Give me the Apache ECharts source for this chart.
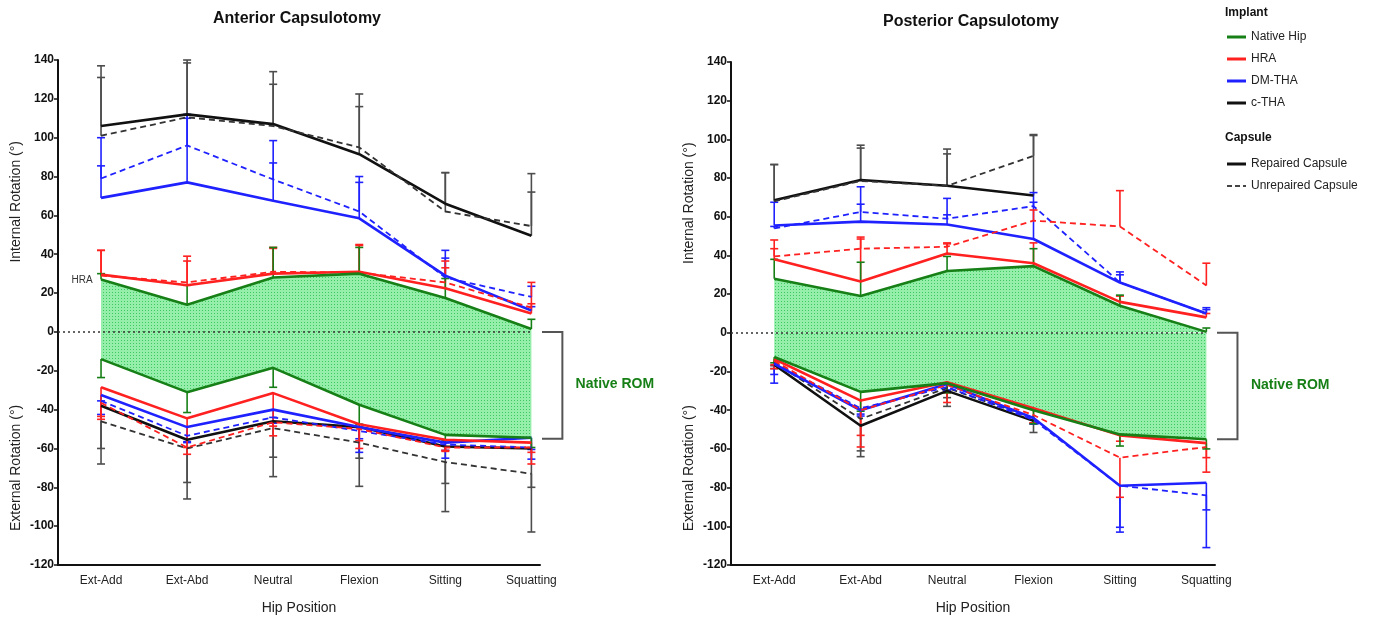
<!DOCTYPE html>
<html>
<head>
<meta charset="utf-8">
<script src="https://cdn.jsdelivr.net/npm/echarts@6/dist/echarts.min.js"></script>
<style>
  html, body { margin: 0; background: #fff; }
  #chart { width: 1376px; height: 620px; }
</style>
</head>
<body>
<div id="chart"></div>
<script>
// hip positions (x categories)
const positions = ['Ext-Add', 'Ext-Abd', 'Neutral', 'Flexion', 'Sitting', 'Squatting'];
const yTicks = { min: -120, max: 140, step: 20 };

// ---- Anterior capsulotomy: internal rotation (mean / sd), u = unrepaired capsule
const antNativeIR = [27, 14, 28, 30, 17.5, 1.5];
const antNativeIRsd = [3, 10, 15.5, 13.5, 10, 5];
const antHraIR = [29.5, 24, 30, 31, 22.5, 9.5];
const antHraIRsd = [12.5, 15, 13.5, 14, 14, 5];
const antHraIRu = [29, 25.5, 31, 30.5, 25.5, 12.5];
const antHraIRusd = [13, 11, 12, 14, 7.5, 13];
const antDmIR = [69, 77, 67.5, 58.5, 29, 11];
const antDmIRsd = [31, 35, 31, 21.5, 13, 2];
const antDmIRu = [79, 96, 78.5, 62, 28, 18];
const antDmIRusd = [6.5, 14, 8.5, 15, 10, 5.5];
const antCthaIR = [106, 112, 107, 91.5, 66, 49.5];
const antCthaIRsd = [31, 28, 27, 31, 16, 32];
const antCthaIRu = [101, 110.5, 106, 95, 62, 54.5];
const antCthaIRusd = [30, 28, 21.5, 21, 20, 17.5];

// ---- Anterior capsulotomy: external rotation
const antNativeER = [-14, -31, -18.5, -37.5, -53, -54.5];
const antNativeERsd = [9.5, 10.5, 10, 10, 3, 5];
const antHraER = [-28.5, -44.5, -31.5, -47.5, -55.5, -57];
const antHraERsd = [16.5, 15, 17, 8.5, 5.5, 5];
const antHraERu = [-36.5, -59.5, -46.5, -50, -59.5, -59.5];
const antHraERusd = [7, 3.5, 7, 10, 2, 8.5];
const antDmER = [-32.5, -49, -40, -49, -57, -54.5];
const antDmERsd = [3, 8, 4, 6, 4, 6];
const antDmERu = [-35.5, -53.5, -44, -51, -58, -59.5];
const antDmERusd = [7, 3, 3, 11, 7, 6];
const antCthaER = [-38, -55.5, -46, -49, -59, -60];
const antCthaERsd = [22, 22, 18.5, 16, 19, 20];
const antCthaERu = [-46, -60, -49.5, -57, -67, -73];
const antCthaERusd = [22, 26, 25, 22.5, 25.5, 30];

// ---- Posterior capsulotomy: internal rotation
const postNativeIR = [28, 19, 32, 34.5, 14, 0.5];
const postNativeIRsd = [10, 17.5, 7.5, 9, 5.5, 2];
const postHraIR = [38, 26.5, 41, 36, 16, 8];
const postHraIRsd = [10, 23, 5.5, 10.5, 3, 2];
const postHraIRu = [39.5, 43.5, 44.5, 58, 55, 24.5];
const postHraIRusd = [4, 5, 1.5, 5.5, 18.5, 11.5];
const postDmIR = [55.5, 57.5, 56, 48.5, 26, 10];
const postDmIRsd = [12, 18, 13.5, 24, 5.5, 3];
const postDmIRu = [54, 62.5, 59, 65.5, 26, 10];
const postDmIRusd = [1, 4, 2, 2, 4, 2];
const postCthaIR = [68.5, 79, 76, 71, null, null];
const postCthaIRsd = [18.5, 18, 19, 31, 0, 0];
const postCthaIRu = [68, 78.5, 76, 91.5, null, null];
const postCthaIRusd = [19, 17, 16.5, 11, 0, 0];

// ---- Posterior capsulotomy: external rotation
const postNativeER = [-12.5, -30.5, -26, -40, -52.5, -55];
const postNativeERsd = [3, 10, 5, 7, 6, 5];
const postHraER = [-13.5, -35, -25.5, -39, -53, -57];
const postHraERsd = [5, 18, 10.5, 7.5, 3, 7.5];
const postHraERu = [-14.5, -40, -27, -42.5, -64.5, -59];
const postHraERusd = [2, 19, 4, 4, 20.5, 13];
const postDmER = [-16, -40, -26.5, -44, -79, -77.5];
const postDmERsd = [10, 3, 3, 3, 24, 33.5];
const postDmERu = [-15.5, -39, -28, -45, -79, -84];
const postDmERusd = [6, 3, 2, 2, 21.5, 7.5];
const postCthaER = [-16.5, -48, -30, -45.5, null, null];
const postCthaERsd = [2, 16, 8, 6, 0, 0];
const postCthaERu = [-15, -44.5, -28.5, -44, null, null];
const postCthaERusd = [2, 16.5, 5, 3, 0, 0];

const FONT = '"Liberation Sans", Arial, sans-serif';
const GREEN = '#167f16', RED = '#ff2020', BLUE = '#1f22ff', BLACK = '#111111', GRAY = '#4d4d4d';

// dotted green texture for the native ROM band
const tile = document.createElement('canvas');
tile.width = 3; tile.height = 3;
const tctx = tile.getContext('2d');
tctx.fillStyle = '#96eeab'; tctx.fillRect(0, 0, 3, 3);
tctx.fillStyle = '#3cc95f'; tctx.fillRect(1, 1, 1, 1);

function toPoints(values) {
  return values.map((v, i) => [i, v]).filter(d => d[1] != null);
}

function line(name, values, color, dashed, g, z) {
  return {
    name: name, type: 'line', xAxisIndex: g, yAxisIndex: g,
    data: toPoints(values), symbol: 'none', z: z || 3,
    lineStyle: { color: color, width: dashed ? 1.8 : 2.6, type: dashed ? [6, 4] : 'solid' },
    itemStyle: { color: color }
  };
}

// error bars only go away from zero (up for IR, down for ER)
function errBars(values, sds, dir, color, g) {
  const data = values.map((v, i) => v == null ? null : [i, v, v + dir * sds[i]]).filter(Boolean);
  return {
    type: 'custom', xAxisIndex: g, yAxisIndex: g, z: 2, silent: true,
    encode: { x: 0, y: [1, 2] },
    data: data,
    renderItem: function (params, api) {
      const p0 = api.coord([api.value(0), api.value(1)]);
      const p1 = api.coord([api.value(0), api.value(2)]);
      const st = { stroke: color, lineWidth: 1.6 };
      return {
        type: 'group',
        children: [
          { type: 'line', shape: { x1: p0[0], y1: p0[1], x2: p1[0], y2: p1[1] }, style: st },
          { type: 'line', shape: { x1: p1[0] - 4, y1: p1[1], x2: p1[0] + 4, y2: p1[1] }, style: st }
        ]
      };
    }
  };
}

function fill(values, g) {
  return {
    type: 'line', xAxisIndex: g, yAxisIndex: g, z: 1, silent: true,
    data: toPoints(values), symbol: 'none',
    lineStyle: { width: 0, opacity: 0 },
    areaStyle: { color: { image: tile, repeat: 'repeat' }, opacity: 1, origin: 0 }
  };
}

function zeroLine(g) {
  return {
    type: 'line', xAxisIndex: g, yAxisIndex: g, data: [], silent: true,
    markLine: {
      silent: true, symbol: 'none', label: { show: false },
      lineStyle: { color: '#333', width: 1.5, type: [2, 3] },
      data: [[{ coord: [-0.5, 0] }, { coord: [5, 0] }]]
    }
  };
}

function chartSeries(g, d) {
  return [
    fill(d.nIR, g), fill(d.nER, g), zeroLine(g),
    errBars(d.cIR, d.cIRsd, 1, GRAY, g), errBars(d.cIRu, d.cIRusd, 1, GRAY, g),
    errBars(d.cER, d.cERsd, -1, GRAY, g), errBars(d.cERu, d.cERusd, -1, GRAY, g),
    errBars(d.dIR, d.dIRsd, 1, BLUE, g), errBars(d.dIRu, d.dIRusd, 1, BLUE, g),
    errBars(d.dER, d.dERsd, -1, BLUE, g), errBars(d.dERu, d.dERusd, -1, BLUE, g),
    errBars(d.hIR, d.hIRsd, 1, RED, g), errBars(d.hIRu, d.hIRusd, 1, RED, g),
    errBars(d.hER, d.hERsd, -1, RED, g), errBars(d.hERu, d.hERusd, -1, RED, g),
    errBars(d.nIR, d.nIRsd, 1, GREEN, g), errBars(d.nER, d.nERsd, -1, GREEN, g),
    line('Native Hip', d.nIR, GREEN, false, g, 6), line('Native Hip', d.nER, GREEN, false, g, 6),
    line('HRA', d.hIR, RED, false, g, 5), line('HRA', d.hER, RED, false, g, 5),
    line('HRA unrepaired', d.hIRu, RED, true, g, 5), line('HRA unrepaired', d.hERu, RED, true, g, 5),
    line('DM-THA', d.dIR, BLUE, false, g, 4), line('DM-THA', d.dER, BLUE, false, g, 4),
    line('DM-THA unrepaired', d.dIRu, BLUE, true, g, 4), line('DM-THA unrepaired', d.dERu, BLUE, true, g, 4),
    line('c-THA', d.cIR, BLACK, false, g, 3), line('c-THA', d.cER, BLACK, false, g, 3),
    line('c-THA unrepaired', d.cIRu, '#333', true, g, 3), line('c-THA unrepaired', d.cERu, '#333', true, g, 3)
  ];
}

const anterior = {
  nIR: antNativeIR, nIRsd: antNativeIRsd, nER: antNativeER, nERsd: antNativeERsd,
  hIR: antHraIR, hIRsd: antHraIRsd, hIRu: antHraIRu, hIRusd: antHraIRusd,
  hER: antHraER, hERsd: antHraERsd, hERu: antHraERu, hERusd: antHraERusd,
  dIR: antDmIR, dIRsd: antDmIRsd, dIRu: antDmIRu, dIRusd: antDmIRusd,
  dER: antDmER, dERsd: antDmERsd, dERu: antDmERu, dERusd: antDmERusd,
  cIR: antCthaIR, cIRsd: antCthaIRsd, cIRu: antCthaIRu, cIRusd: antCthaIRusd,
  cER: antCthaER, cERsd: antCthaERsd, cERu: antCthaERu, cERusd: antCthaERusd
};
const posterior = {
  nIR: postNativeIR, nIRsd: postNativeIRsd, nER: postNativeER, nERsd: postNativeERsd,
  hIR: postHraIR, hIRsd: postHraIRsd, hIRu: postHraIRu, hIRusd: postHraIRusd,
  hER: postHraER, hERsd: postHraERsd, hERu: postHraERu, hERusd: postHraERusd,
  dIR: postDmIR, dIRsd: postDmIRsd, dIRu: postDmIRu, dIRusd: postDmIRusd,
  dER: postDmER, dERsd: postDmERsd, dERu: postDmERu, dERusd: postDmERusd,
  cIR: postCthaIR, cIRsd: postCthaIRsd, cIRu: postCthaIRu, cIRusd: postCthaIRusd,
  cER: postCthaER, cERsd: postCthaERsd, cERu: postCthaERu, cERusd: postCthaERusd
};

function xAxis(g) {
  return {
    type: 'value', gridIndex: g, min: -0.5, max: 5.1, interval: 0.5,
    splitLine: { show: false }, axisTick: { show: false },
    axisLine: { show: true, onZero: false, lineStyle: { color: '#111', width: 2 } },
    axisLabel: {
      color: '#222', fontFamily: FONT, fontSize: 12, margin: 10, showMaxLabel: false,
      formatter: v => Number.isInteger(v) && v >= 0 ? positions[v] : ''
    },
    name: 'Hip Position', nameLocation: 'middle', nameGap: 36,
    nameTextStyle: { color: '#222', fontFamily: FONT, fontSize: 14 }
  };
}
function yAxis(g) {
  return {
    type: 'value', gridIndex: g, min: yTicks.min, max: yTicks.max, interval: yTicks.step,
    splitLine: { show: false },
    axisLine: { show: true, onZero: false, lineStyle: { color: '#111', width: 2 } },
    axisTick: { show: true, length: 4, lineStyle: { color: '#111', width: 1.5 } },
    axisLabel: { color: '#111', fontFamily: FONT, fontSize: 12, fontWeight: 'bold', margin: 4 }
  };
}

const SOLID_ICON = 'rect';
const DASH_ICON = 'path://M0,0H5V2H0Z M8,0H13V2H8Z M16,0H19V2H16Z';
const legendText = { color: '#222', fontFamily: FONT, fontSize: 12 };

const chart = echarts.init(document.getElementById('chart'));
const option = {
  animation: false,
  backgroundColor: '#fff',
  grid: [
    { left: 58, top: 60, width: 482, height: 511 },
    { left: 731, top: 62, width: 484, height: 513 }
  ],
  xAxis: [xAxis(0), xAxis(1)],
  yAxis: [yAxis(0), yAxis(1)],
  legend: [
    {
      data: ['Native Hip', 'HRA', 'DM-THA', 'c-THA'].map(n => ({ name: n, icon: SOLID_ICON })),
      orient: 'vertical', left: 1222, top: 26, itemWidth: 19, itemHeight: 3, itemGap: 10,
      selectedMode: false, textStyle: legendText
    },
    {
      data: [{ name: 'Repaired Capsule', icon: SOLID_ICON }, { name: 'Unrepaired Capsule', icon: DASH_ICON }],
      orient: 'vertical', left: 1222, top: 153, itemWidth: 19, itemHeight: 3, itemGap: 10,
      selectedMode: false, textStyle: legendText
    }
  ],
  series: chartSeries(0, anterior).concat(chartSeries(1, posterior)).concat([
    { name: 'Repaired Capsule', type: 'line', data: [], symbol: 'none', lineStyle: { color: BLACK, width: 2.6 }, itemStyle: { color: BLACK } },
    { name: 'Unrepaired Capsule', type: 'line', data: [], symbol: 'none', lineStyle: { color: '#444', width: 1.5, type: [4, 4] }, itemStyle: { color: '#444' } }
  ])
};
chart.setOption(option);

// labels and brackets placed through the axes' own scales
function px(g, x, y) { return chart.convertToPixel({ gridIndex: g }, [x, y]); }
const graphics = [];
function text(x, y, str, style, rot) {
  graphics.push({
    type: 'text', x: x, y: y, rotation: rot || 0, silent: true,
    style: Object.assign({ text: str, fontFamily: FONT, fill: '#222', align: 'center', verticalAlign: 'middle' }, style)
  });
}
const titles = ['Anterior Capsulotomy', 'Posterior Capsulotomy'];
[0, 1].forEach(g => {
  const top = px(g, 2.3, 140);
  text(top[0] - 2, top[1] - 41 + g, titles[g], { fontSize: 16, fontWeight: 'bold', fill: '#111' });
  const ax = px(g, -0.5, 67), bx = px(g, -0.5, -70);
  text(ax[0] - 42, ax[1], 'Internal Rotation (°)', { fontSize: 14 }, Math.PI / 2);
  text(bx[0] - 42, bx[1], 'External Rotation (°)', { fontSize: 14 }, Math.PI / 2);
  // Native ROM bracket
  const b0 = px(g, 5.1, 0), b1 = px(g, 5.1, -55), bx2 = px(g, 5.36, 0)[0];
  const st = { stroke: '#555', lineWidth: 2, fill: null };
  graphics.push({ type: 'polyline', silent: true, shape: { points: [[b0[0] + 2, b0[1]], [bx2, b0[1]], [bx2, b1[1]], [b1[0] + 2, b1[1]]] }, style: st });
  const lab = px(g, 5.97, -27);
  text(lab[0], lab[1], 'Native ROM', { fontSize: 14, fontWeight: 'bold', fill: GREEN });
});
const hraPos = px(0, -0.22, 26.5);
text(hraPos[0], hraPos[1], 'HRA', { fontSize: 10, fill: '#333' });
text(1225, 13, 'Implant', { fontSize: 12, fontWeight: 'bold', fill: '#111', align: 'left' });
text(1225, 138, 'Capsule', { fontSize: 12, fontWeight: 'bold', fill: '#111', align: 'left' });
chart.setOption({ graphic: graphics });
</script>
</body>
</html>
